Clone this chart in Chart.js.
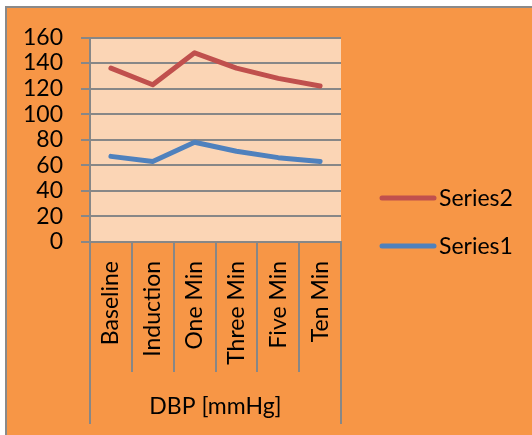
<!DOCTYPE html>
<html>
<head>
<meta charset="utf-8">
<script src="https://cdn.jsdelivr.net/npm/chart.js@4/dist/chart.umd.min.js"></script>
<style>
  html, body { margin: 0; padding: 0; background: #ffffff; }
  #wrap { width: 532px; height: 435px; position: relative; }
</style>
</head>
<body>
<div id="wrap"><canvas id="c" width="532" height="435"></canvas></div>
<script>
const categories = ['Baseline', 'Induction', 'One Min', 'Three Min', 'Five Min', 'Ten Min'];
const series1 = [67, 63, 78, 71, 66, 63];
const series2 = [136, 123, 148, 136, 128, 122];
const seriesNames = ['Series1', 'Series2'];
const axisTitle = 'DBP [mmHg]';
const yMin = 0, yMax = 160, yStep = 20;

const FONT = { family: 'Lato, "Open Sans", sans-serif', size: 23 };
const GRID = '#878787';

const bgPlugin = {
  id: 'bg',
  beforeDraw(chart) {
    const { ctx, chartArea: a } = chart;
    ctx.save();
    ctx.fillStyle = '#ffffff';
    ctx.fillRect(0, 0, chart.width, chart.height);
    ctx.fillStyle = '#F79646';
    ctx.fillRect(6, 7, chart.width - 6, chart.height - 7);
    ctx.strokeStyle = '#8a8a8a';
    ctx.lineWidth = 2;
    ctx.beginPath();
    ctx.moveTo(6, chart.height);
    ctx.lineTo(6, 7);
    ctx.lineTo(chart.width, 7);
    ctx.stroke();
    ctx.fillStyle = '#FBD5B5';
    ctx.fillRect(a.left, a.top, a.right - a.left, a.bottom - a.top);
    ctx.restore();
  }
};

const edgePlugin = {
  id: 'edges',
  afterDraw(chart) {
    const { ctx } = chart;
    const xs = chart.scales.x;
    ctx.save();
    ctx.strokeStyle = GRID;
    ctx.lineWidth = 2;
    ctx.beginPath();
    [xs.left, xs.right].forEach(px => {
      ctx.moveTo(px, xs.top);
      ctx.lineTo(px, xs.bottom);
    });
    ctx.stroke();
    ctx.restore();
  }
};

const legendPlugin = {
  id: 'customLegend',
  afterDraw(chart) {
    const { ctx } = chart;
    const ds = chart.data.datasets.slice().reverse();
    ctx.save();
    ctx.font = FONT.size + 'px ' + FONT.family;
    ctx.textBaseline = 'middle';
    ctx.textAlign = 'left';
    ds.forEach((d, i) => {
      const y = 198 + i * 48;
      ctx.strokeStyle = d.borderColor;
      ctx.lineWidth = 5;
      ctx.lineCap = 'round';
      ctx.beginPath();
      ctx.moveTo(382, y);
      ctx.lineTo(434, y);
      ctx.stroke();
      ctx.fillStyle = '#000';
      ctx.fillText(d.label, 439, y + 1);
    });
    ctx.restore();
  }
};

new Chart(document.getElementById('c'), {
  type: 'line',
  data: {
    labels: categories,
    datasets: [
      { label: seriesNames[0], data: series1, borderColor: '#4F81BD', backgroundColor: '#4F81BD',
        borderWidth: 5, pointRadius: 0, tension: 0, borderJoinStyle: 'round', borderCapStyle: 'round' },
      { label: seriesNames[1], data: series2, borderColor: '#C0504D', backgroundColor: '#C0504D',
        borderWidth: 5, pointRadius: 0, tension: 0, borderJoinStyle: 'round', borderCapStyle: 'round' }
    ]
  },
  options: {
    responsive: false,
    animation: false,
    events: [],
    layout: { padding: { left: 0, right: 191, top: 37.5, bottom: 11 } },
    plugins: { legend: { display: false }, tooltip: { enabled: false } },
    scales: {
      x: {
        type: 'category',
        offset: true,
        grid: { offset: true, drawOnChartArea: false, drawTicks: true, tickLength: 130, color: GRID, lineWidth: 2 },
        border: { display: true, color: GRID, width: 2 },
        ticks: { minRotation: 90, maxRotation: 90, autoSkip: false, padding: -111, color: '#000', font: FONT },
        title: { display: true, text: axisTitle, color: '#000', font: FONT, padding: { top: 0, bottom: 4 } },
        afterFit(s) { s.height = 182; }
      },
      y: {
        min: yMin, max: yMax,
        ticks: { stepSize: yStep, autoSkip: false, padding: 18, color: '#000', font: FONT },
        grid: { color: GRID, lineWidth: 2, tickLength: 9, drawTicks: true },
        border: { display: true, color: GRID, width: 2 },
        afterFit(s) { s.width = 90; }
      }
    }
  },
  plugins: [bgPlugin, edgePlugin, legendPlugin]
});
</script>
</body>
</html>
